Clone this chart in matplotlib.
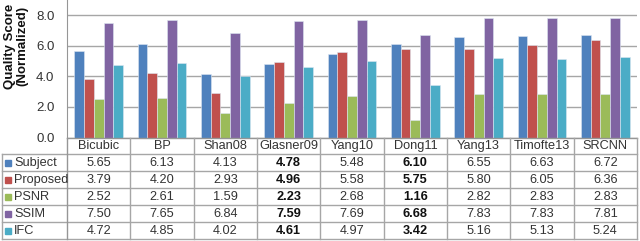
import numpy as np
import matplotlib
matplotlib.use("Agg")
import matplotlib.pyplot as plt

plt.rcParams['font.family'] = ['Liberation Sans', 'DejaVu Sans']

# --- DATA ---
methods = ["Bicubic", "BP", "Shan08", "Glasner09", "Yang10", "Dong11", "Yang13", "Timofte13", "SRCNN"]
series = ["Subject", "Proposed", "PSNR", "SSIM", "IFC"]
subject = [5.65, 6.13, 4.13, 4.78, 5.48, 6.10, 6.55, 6.63, 6.72]
proposed = [3.79, 4.20, 2.93, 4.96, 5.58, 5.75, 5.80, 6.05, 6.36]
psnr = [2.52, 2.61, 1.59, 2.23, 2.68, 1.16, 2.82, 2.83, 2.83]
ssim = [7.50, 7.65, 6.84, 7.59, 7.69, 6.68, 7.83, 7.83, 7.81]
ifc = [4.72, 4.85, 4.02, 4.61, 4.97, 3.42, 5.16, 5.13, 5.24]
bold_methods = ["Glasner09", "Dong11"]
yticks = [0, 2, 4, 6, 8]

values = [subject, proposed, psnr, ssim, ifc]
colors = ["#4F81BD", "#C0504D", "#9BBB59", "#8064A2", "#4BACC6"]
grid_col = "#A6A6A6"
line_col = "#969696"
txt_col = "#333333"
fs = 9.2

# --- LAYOUT (pixels) ---
W, H = 640, 241
ax_left, ax_right = 67, 637
ax_bottom = 137.5
row_h = 16.9
tbl_left = 2

fig = plt.figure(figsize=(W / 100, H / 100), dpi=100)
ax = fig.add_axes([ax_left / W, 1 - ax_bottom / H, (ax_right - ax_left) / W, ax_bottom / H])

x = np.arange(len(methods))
w = 0.153
for i, (vals, c) in enumerate(zip(values, colors)):
    ax.bar(x + (i - 2) * w, vals, width=w, color=c, edgecolor="#dde6f2", linewidth=0.4, zorder=3)

ax.set_xlim(-0.5, len(methods) - 0.5)
ax.set_ylim(0, 8 * ax_bottom / (ax_bottom - 15))
ax.set_yticks(yticks)
ax.set_yticklabels([f"{t:.1f}" for t in yticks], fontsize=fs + 0.3, color=txt_col)
ax.set_xticks([])
ax.yaxis.grid(True, color=grid_col, linewidth=1, zorder=0)
for s in ["top", "right", "bottom"]:
    ax.spines[s].set_visible(False)
ax.spines["left"].set_color(line_col)
ax.tick_params(axis="y", length=0, pad=9)

fig.text(16 / W, 1 - 46 / H, "Quality Score\n(Normalized)", rotation=90, ha="center", va="center",
         fontsize=9.5, fontweight="bold", linespacing=1.0, color="#111111")

# --- TABLE ---
tb = fig.add_axes([0, 0, 1, 1], zorder=5)
tb.set_xlim(0, W)
tb.set_ylim(H, 0)
tb.axis("off")
tb.patch.set_alpha(0)

col_w = (ax_right - ax_left) / len(methods)
y_rows = [ax_bottom + row_h * k for k in range(len(series) + 2)]

# horizontal lines
tb.plot([ax_left, ax_right], [y_rows[0]] * 2, color=line_col, lw=1)
for y in y_rows[1:]:
    tb.plot([tbl_left, ax_right], [y, y], color=grid_col, lw=1)
# vertical lines
for k in range(len(methods) + 1):
    xx = ax_left + k * col_w
    tb.plot([xx, xx], [y_rows[0], y_rows[-1]], color=grid_col if k else line_col, lw=1)
tb.plot([tbl_left, tbl_left], [y_rows[1], y_rows[-1]], color=grid_col, lw=1)

# category labels
for k, m in enumerate(methods):
    cx = ax_left + (k + 0.5) * col_w
    tb.text(cx, (y_rows[0] + y_rows[1]) / 2 + 0.5, m, ha="center", va="center", fontsize=fs, color=txt_col)

# rows
for r, (name, vals, c) in enumerate(zip(series, values, colors)):
    yc = (y_rows[r + 1] + y_rows[r + 2]) / 2 + 0.5
    tb.add_patch(plt.Rectangle((5, yc - 3), 6, 6, color=c))
    tb.text(14, yc, name, ha="left", va="center", fontsize=fs, color=txt_col)
    for k, v in enumerate(vals):
        cx = ax_left + (k + 0.5) * col_w
        bold = methods[k] in bold_methods
        tb.text(cx, yc, f"{v:.2f}", ha="center", va="center", fontsize=fs,
                fontweight="bold" if bold else "normal", color="#111111" if bold else txt_col)

fig.savefig("out.png", dpi=100)
